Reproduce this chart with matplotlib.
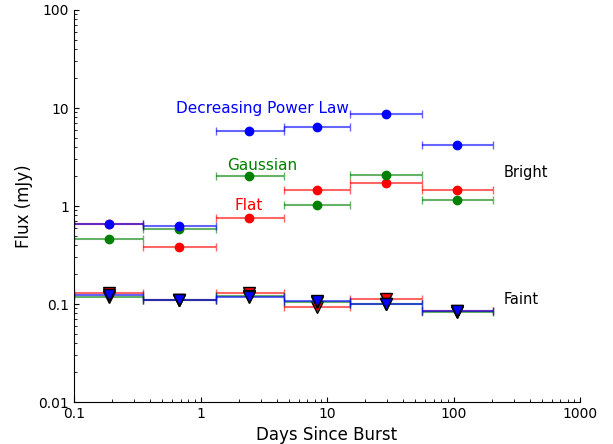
import numpy as np
import matplotlib
matplotlib.use("Agg")
import matplotlib.pyplot as plt

bin_edges = [0.1, 0.35, 1.33, 4.57, 15.2, 56.5, 205.0]
bin_centers = [0.189, 0.676, 2.42, 8.3, 29.4, 107.0]

bright_power = [0.655, 0.62, 5.8, 6.4, 8.7, 4.15]
bright_gauss = [0.46, 0.58, 2.02, 1.02, 2.07, 1.15]
bright_flat = [0.65, 0.38, 0.755, 1.46, 1.72, 1.46]

faint_power = [0.125, 0.11, 0.118, 0.107, 0.099, 0.084]
faint_gauss = [0.119, 0.109, 0.12, 0.106, 0.1, 0.083]
faint_flat = [0.129, 0.11, 0.13, 0.093, 0.112, 0.085]

fig = plt.figure(figsize=(6.13, 4.44), dpi=100)
ax = fig.add_axes([74/613, 1-402/444, (580-74)/613, (402-10)/444])

xc = np.array(bin_centers)
edges = np.array(bin_edges)
xerr = np.vstack([xc - edges[:-1], edges[1:] - xc])

def plot_series(y, color, marker, ms, mec):
    ax.errorbar(xc, y, xerr=xerr, fmt='none', ecolor=color, alpha=0.6,
                capsize=3, elinewidth=1.5, capthick=1)
    ax.plot(xc, y, linestyle='none', marker=marker, color=color, ms=ms,
            mec=mec, mew=1)

plot_series(bright_flat, 'red', 'o', 6, 'red')
plot_series(bright_gauss, 'green', 'o', 6, 'green')
plot_series(bright_power, 'blue', 'o', 6, 'blue')
plot_series(faint_flat, 'red', 'v', 9, 'black')
plot_series(faint_gauss, 'green', 'v', 9, 'black')
plot_series(faint_power, 'blue', 'v', 9, 'black')

ax.set_xscale('log')
ax.set_yscale('log')
ax.set_xlim(0.1, 1000)
ax.set_ylim(0.01, 100)
ax.set_xticks([0.1, 1, 10, 100, 1000])
ax.set_xticklabels(['0.1', '1', '10', '100', '1000'])
ax.set_yticks([0.01, 0.1, 1, 10, 100])
ax.set_yticklabels(['0.01', '0.1', '1', '10', '100'])
ax.tick_params(which='both', direction='in')
ax.spines['top'].set_visible(False)
ax.spines['right'].set_visible(False)
ax.set_xlabel('Days Since Burst', fontsize=12)
ax.set_ylabel('Flux (mJy)', fontsize=12)

ax.text(3.1, 10, 'Decreasing Power Law', color='blue', ha='center', va='center', fontsize=11)
ax.text(3.1, 2.56, 'Gaussian', color='green', ha='center', va='center', fontsize=11)
ax.text(2.4, 1.0, 'Flat', color='red', ha='center', va='center', fontsize=11)
ax.text(247, 2.2, 'Bright', color='black', ha='left', va='center', fontsize=10.5)
ax.text(247, 0.11, 'Faint', color='black', ha='left', va='center', fontsize=10.5)

fig.savefig('out.png', dpi=100)
